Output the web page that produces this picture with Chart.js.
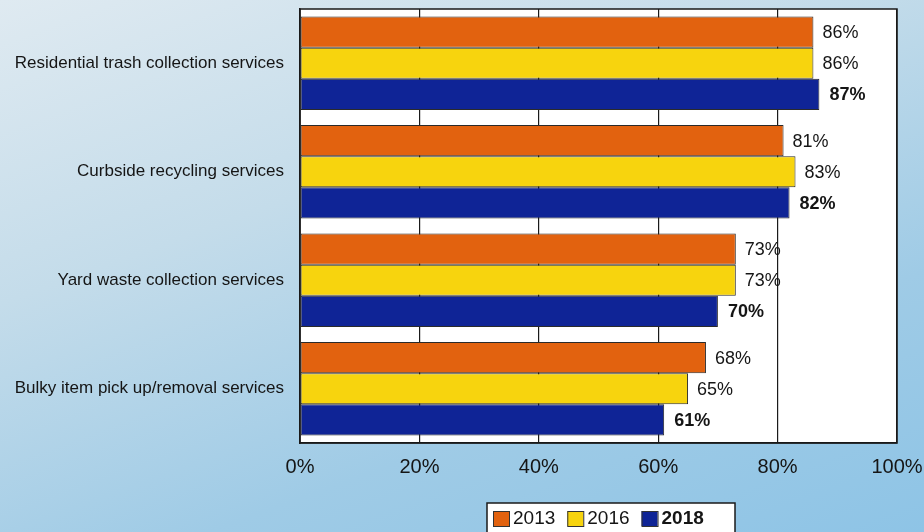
<!DOCTYPE html>
<html>
<head>
<meta charset="utf-8">
<script src="https://cdn.jsdelivr.net/npm/chart.js@4/dist/chart.umd.min.js"></script>
<style>
  html, body { margin: 0; padding: 0; }
  body {
    width: 924px; height: 532px; overflow: hidden;
    background: linear-gradient(160deg, #dfeaf1 0%, #c4dcea 35%, #9fcbe6 70%, #8ec4e6 100%);
  }
  #chartContainer { position: relative; width: 924px; height: 532px; }
</style>
</head>
<body>
<div id="chartContainer"><canvas id="Chart1" width="924" height="532"></canvas></div>
<script>
// service satisfaction by survey year
const services = [
  'Residential trash collection services',
  'Curbside recycling services',
  'Yard waste collection services',
  'Bulky item pick up/removal services'
];
const years = ['2013', '2016', '2018'];
const values2013 = [86, 81, 73, 68];
const values2016 = [86, 83, 73, 65];
const values2018 = [87, 82, 70, 61];
const percentTicks = [0, 20, 40, 60, 80, 100];

const yearColors = ['#e2620f', '#f7d40e', '#0f2496'];
const boldYear = '2018';

// white plot area behind the bars
const plotBackground = {
  id: 'plotBackground',
  beforeDraw(chart) {
    const { ctx, chartArea: a } = chart;
    ctx.save();
    ctx.fillStyle = '#ffffff';
    ctx.fillRect(a.left, a.top, a.right - a.left, a.bottom - a.top);
    ctx.restore();
  },
  afterDatasetsDraw(chart) {
    const { ctx, chartArea: a } = chart;
    ctx.save();
    ctx.strokeStyle = '#1a1a1a';
    ctx.lineWidth = 1.5;
    ctx.strokeRect(a.left, a.top, a.right - a.left, a.bottom - a.top);
    ctx.restore();
  }
};

// percentage text at the end of each bar
const barLabels = {
  id: 'barLabels',
  afterDatasetsDraw(chart) {
    const ctx = chart.ctx;
    ctx.save();
    ctx.fillStyle = '#151515';
    ctx.textBaseline = 'middle';
    ctx.textAlign = 'left';
    chart.data.datasets.forEach((ds, i) => {
      const bold = ds.label === boldYear;
      ctx.font = (bold ? 'bold ' : '') + '18px "Liberation Sans", Arial, sans-serif';
      chart.getDatasetMeta(i).data.forEach((bar, j) => {
        ctx.fillText(ds.data[j] + '%', bar.x + (bold ? 10 : 9), bar.y + 1);
      });
    });
    ctx.restore();
  }
};

// boxed legend under the axis
const boxLegend = {
  id: 'boxLegend',
  afterDraw(chart) {
    const ctx = chart.ctx;
    ctx.save();
    ctx.fillStyle = '#ffffff';
    ctx.strokeStyle = '#1a1a1a';
    ctx.lineWidth = 1.5;
    ctx.fillRect(487, 503, 248, 40);
    ctx.strokeRect(487, 503, 248, 40);
    let x = 493;
    ctx.textBaseline = 'middle';
    chart.data.datasets.forEach((ds) => {
      const bold = ds.label === boldYear;
      ctx.fillStyle = ds.backgroundColor;
      ctx.fillRect(x, 511, 16, 15);
      ctx.strokeStyle = '#333333';
      ctx.lineWidth = 1;
      ctx.strokeRect(x + 0.5, 511.5, 16, 15);
      ctx.font = (bold ? 'bold ' : '') + '19px "Liberation Sans", Arial, sans-serif';
      ctx.fillStyle = '#151515';
      ctx.fillText(ds.label, x + 20, 519);
      x += 20 + ctx.measureText(ds.label).width + 12;
    });
    ctx.restore();
  }
};

const seriesValues = [values2013, values2016, values2018];

ctx = document.getElementById('Chart1').getContext('2d');
const Chart1 = new Chart(ctx, {
  type: 'bar',
  data: {
    labels: services,
    datasets: years.map((yr, i) => ({
      label: yr,
      data: seriesValues[i],
      backgroundColor: yearColors[i],
      borderColor: '#2a2a2a',
      borderWidth: 1,
      borderSkipped: false,
      categoryPercentage: 0.86,
      barPercentage: 1.0
    }))
  },
  options: {
    indexAxis: 'y',
    responsive: false,
    animation: false,
    layout: { padding: { top: 9, right: 27, left: 0, bottom: 0 } },
    plugins: {
      legend: { display: false },
      tooltip: { enabled: false }
    },
    scales: {
      x: {
        min: 0,
        max: 100,
        afterBuildTicks: (scale) => { scale.ticks = percentTicks.map(v => ({ value: v })); },
        afterFit: (scale) => {
          scale.height = 89;
          scale.paddingLeft = 0;
          scale.paddingRight = 0;
        },
        ticks: {
          callback: (v) => v + '%',
          color: '#151515',
          padding: 12,
          maxRotation: 0,
          font: { size: 20, family: '"Liberation Sans", Arial, sans-serif' }
        },
        grid: { color: '#1a1a1a', lineWidth: 1.2, drawTicks: false },
        border: { display: true, color: '#1a1a1a', width: 1.5 }
      },
      y: {
        afterFit: (scale) => {
          scale.width = 300;
          scale.paddingTop = 0;
          scale.paddingBottom = 0;
        },
        ticks: {
          color: '#151515',
          padding: 16,
          font: { size: 17, family: '"Liberation Sans", Arial, sans-serif' }
        },
        grid: { display: false, drawTicks: false },
        border: { display: true, color: '#1a1a1a', width: 1.5 }
      }
    }
  },
  plugins: [plotBackground, barLabels, boxLegend]
});
</script>
</body>
</html>
